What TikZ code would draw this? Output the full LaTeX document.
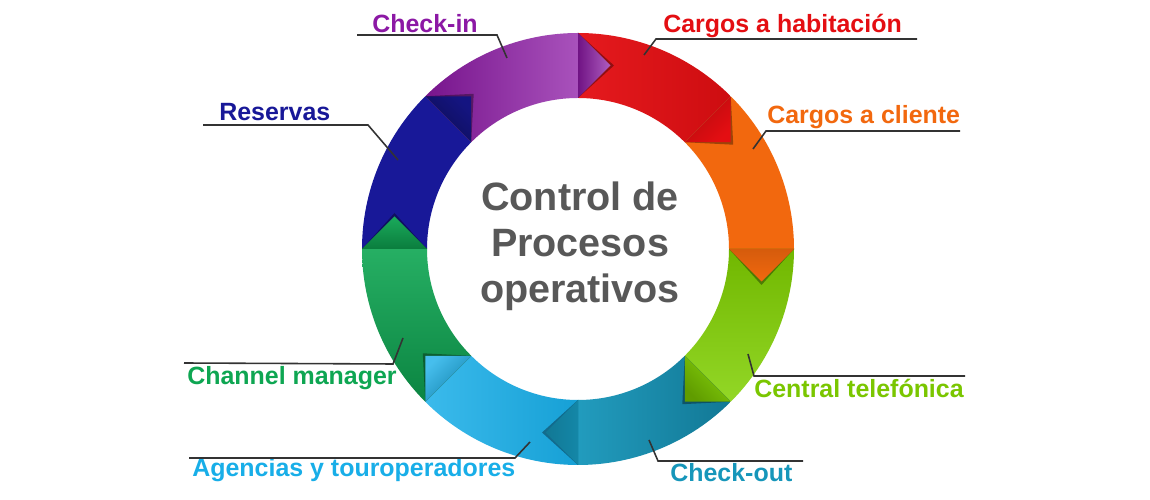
\documentclass[tikz,border=0pt]{standalone}
\usepackage{fontspec}
\setmainfont{Liberation Sans}
\usepackage{tikz}
\definecolor{checkinPurple}{RGB}{140,24,165}
\definecolor{roomRed}{RGB}{228,14,18}
\definecolor{clientOrange}{RGB}{242,104,14}
\definecolor{phoneLime}{RGB}{128,208,0}
\definecolor{checkoutTeal}{RGB}{22,150,186}
\definecolor{agencyBlue}{RGB}{24,174,232}
\definecolor{channelGreen}{RGB}{14,166,82}
\definecolor{bookingNavy}{RGB}{24,24,152}
\definecolor{titleGrey}{RGB}{88,88,88}
\definecolor{leaderGrey}{RGB}{51,51,51}

\begin{document}
\begin{tikzpicture}[
  x=0.02cm,
  y=0.02cm,
  seg/.style={draw=none},
  tri/.style={draw=none},
  trishadow/.style={fill=black, opacity=0.35},
  lbl/.style={anchor=base west, inner sep=0pt, font=\fontsize{14.2}{17}\selectfont\bfseries},
  leader/.style={draw=leaderGrey, line width=0.9pt},
  title/.style={align=center, inner sep=0pt, text=titleGrey, font=\fontsize{22.5}{26.2}\selectfont\bfseries}
]
\useasboundingbox (0,0) rectangle (1150,500);
\fill[white] (0,0) rectangle (1150,500);

% ring, clockwise
\begin{scope}[shift={(578,251)}]
\fill[seg, bookingNavy]   (180:216) arc[start angle=180, end angle=135, radius=216] -- (135:151) arc[start angle=135, end angle=180, radius=151] -- cycle;
\shade[seg, left color=checkinPurple!85!black, right color=checkinPurple!75!white] (135:216) arc[start angle=135, end angle=90, radius=216] -- (90:151) arc[start angle=90, end angle=135, radius=151] -- cycle;
\shade[seg, left color=roomRed!95!white, right color=roomRed!90!black] (90:216) arc[start angle=90, end angle=45, radius=216] -- (45:151) arc[start angle=45, end angle=90, radius=151] -- cycle;
\fill[seg, clientOrange]  (45:216) arc[start angle=45, end angle=0, radius=216] -- (0:151) arc[start angle=0, end angle=45, radius=151] -- cycle;
\shade[seg, top color=phoneLime!88!black, bottom color=phoneLime!85!white] (0:216) arc[start angle=0, end angle=-45, radius=216] -- (-45:151) arc[start angle=-45, end angle=0, radius=151] -- cycle;
\shade[seg, left color=checkoutTeal!95!white, right color=checkoutTeal!80!black] (-45:216) arc[start angle=-45, end angle=-90, radius=216] -- (-90:151) arc[start angle=-90, end angle=-45, radius=151] -- cycle;
\shade[seg, left color=agencyBlue!85!white, right color=agencyBlue!92!black] (-90:216) arc[start angle=-90, end angle=-135, radius=216] -- (-135:151) arc[start angle=-135, end angle=-90, radius=151] -- cycle;
\shade[seg, top color=channelGreen!90!white, bottom color=channelGreen!80!black] (-135:216) arc[start angle=-135, end angle=-180, radius=216] -- (-180:151) arc[start angle=-180, end angle=-135, radius=151] -- cycle;

% arrow heads with shadow
\fill[trishadow] (135:216) -- ([shift={(45:36)}]135:183.5) -- (135:151) -- cycle;
\shade[tri, top color=bookingNavy!85!black, bottom color=bookingNavy!55!black, shading angle=-45] (135:216) -- ([shift={(45:32.5)}]135:183.5) -- (135:151) -- cycle;
\fill[trishadow] (90:216) -- ([shift={(0:36)}]90:183.5) -- (90:151) -- cycle;
\shade[tri, top color=checkinPurple!70!white, bottom color=checkinPurple!80!black, shading angle=-90] (90:216) -- ([shift={(0:32.5)}]90:183.5) -- (90:151) -- cycle;
\fill[trishadow] (45:216) -- ([shift={(-45:36)}]45:183.5) -- (45:151) -- cycle;
\shade[tri, top color=roomRed, bottom color=roomRed!80!black, shading angle=-135] (45:216) -- ([shift={(-45:32.5)}]45:183.5) -- (45:151) -- cycle;
\fill[trishadow] (0:216) -- ([shift={(-90:36)}]0:183.5) -- (0:151) -- cycle;
\shade[tri, top color=clientOrange, bottom color=clientOrange!88!black, shading angle=180] (0:216) -- ([shift={(-90:32.5)}]0:183.5) -- (0:151) -- cycle;
\fill[trishadow] (-45:216) -- ([shift={(-135:36)}]-45:183.5) -- (-45:151) -- cycle;
\shade[tri, top color=phoneLime!75!black, bottom color=phoneLime!95!white, shading angle=135] (-45:216) -- ([shift={(-135:32.5)}]-45:183.5) -- (-45:151) -- cycle;
\fill[trishadow] (-90:216) -- ([shift={(180:36)}]-90:183.5) -- (-90:151) -- cycle;
\shade[tri, top color=checkoutTeal!80!black, bottom color=checkoutTeal!90!black, shading angle=90] (-90:216) -- ([shift={(180:32.5)}]-90:183.5) -- (-90:151) -- cycle;
\fill[trishadow] (-135:216) -- ([shift={(135:36)}]-135:183.5) -- (-135:151) -- cycle;
\shade[tri, top color=agencyBlue!80!white, bottom color=agencyBlue!75!black, shading angle=45] (-135:216) -- ([shift={(135:32.5)}]-135:183.5) -- (-135:151) -- cycle;
\fill[trishadow] (180:216) -- ([shift={(90:36)}]180:183.5) -- (180:151) -- cycle;
\shade[tri, top color=channelGreen!95!white, bottom color=channelGreen!75!black, shading angle=0] (180:216) -- ([shift={(90:32.5)}]180:183.5) -- (180:151) -- cycle;
\end{scope}

\node[title] (procesos) at (580,253.5) {Control de\\Procesos\\operativos};

% labels
\node[lbl, text=checkinPurple] (checkin) at (372,467) {Check-in};
\node[lbl, text=roomRed] (habitacion) at (663,467) {Cargos a habitación};
\node[lbl, text=clientOrange] (cliente) at (767,376) {Cargos a cliente};
\node[lbl, text=bookingNavy] (reservas) at (219,379) {Reservas};
\node[lbl, text=channelGreen] (channel) at (187,115) {Channel manager};
\node[lbl, text=agencyBlue] (agencias) at (192,23) {Agencias y touroperadores};
\node[lbl, text=checkoutTeal] (checkout) at (670,18) {Check-out};
\node[lbl, text=phoneLime!95!black] (central) at (754,102) {Central telefónica};

% leader lines
\coordinate (checkinA) at (357,465); \coordinate (checkinB) at (497,465); \coordinate (checkinC) at (507,442);
\coordinate (habitacionA) at (917,461); \coordinate (habitacionB) at (656,461); \coordinate (habitacionC) at (644,445);
\coordinate (clienteA) at (960,369); \coordinate (clienteB) at (766,369); \coordinate (clienteC) at (753,351);
\coordinate (reservasA) at (203,375); \coordinate (reservasB) at (368,375); \coordinate (reservasC) at (398,340);
\coordinate (channelA) at (184,137); \coordinate (channelB) at (393,136); \coordinate (channelC) at (403,162);
\coordinate (agenciasA) at (189,42); \coordinate (agenciasB) at (515,42); \coordinate (agenciasC) at (530,58);
\coordinate (checkoutA) at (803,39); \coordinate (checkoutB) at (658,39); \coordinate (checkoutC) at (649,60);
\coordinate (centralA) at (965,124); \coordinate (centralB) at (754,124); \coordinate (centralC) at (748,146);

\draw[leader] (checkinA) -- (checkinB) -- (checkinC);
\draw[leader] (habitacionA) -- (habitacionB) -- (habitacionC);
\draw[leader] (clienteA) -- (clienteB) -- (clienteC);
\draw[leader] (reservasA) -- (reservasB) -- (reservasC);
\draw[leader] (channelA) -- (channelB) -- (channelC);
\draw[leader] (agenciasA) -- (agenciasB) -- (agenciasC);
\draw[leader] (checkoutA) -- (checkoutB) -- (checkoutC);
\draw[leader] (centralA) -- (centralB) -- (centralC);
\end{tikzpicture}
\end{document}
